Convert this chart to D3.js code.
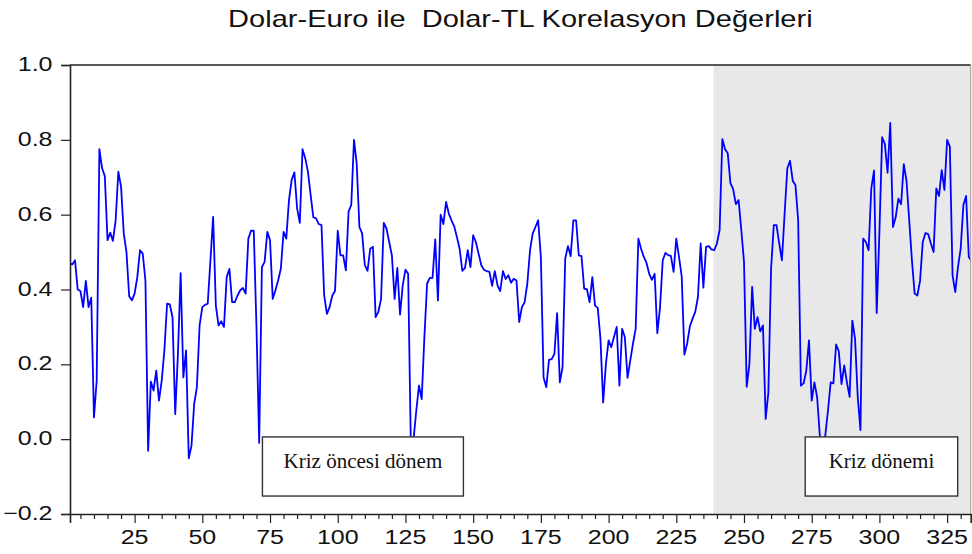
<!DOCTYPE html>
<html>
<head>
<meta charset="utf-8">
<script src="https://cdn.jsdelivr.net/npm/d3@7"></script>
<style>
  html, body { margin: 0; padding: 0; background: #fff; }
  svg { display: block; }
</style>
</head>
<body>
<div id="chart"></div>
<script>
const chartTitle = "Dolar-Euro ile  Dolar-TL Korelasyon Değerleri";

// korelasyon değerleri, gözlem 1'den başlayarak
const correlation = [
  0.47, 0.467, 0.478, 0.40, 0.396, 0.353, 0.423, 0.353, 0.378, 0.058,
  0.156, 0.775, 0.724, 0.703, 0.532, 0.552, 0.53, 0.585, 0.715, 0.675,
  0.55, 0.50, 0.382, 0.371, 0.389, 0.433, 0.505, 0.496, 0.424, -0.031,
  0.154, 0.13, 0.183, 0.103, 0.156, 0.237, 0.362, 0.36, 0.326, 0.067,
  0.228, 0.444, 0.165, 0.237, -0.051, -0.018, 0.094, 0.139, 0.304, 0.353,
  0.359, 0.362, 0.478, 0.594, 0.357, 0.304, 0.315, 0.30, 0.433, 0.455,
  0.366, 0.366, 0.384, 0.398, 0.404, 0.389, 0.536, 0.557, 0.557, 0.30,
  -0.01, 0.46, 0.474, 0.554, 0.532, 0.375, 0.398, 0.424, 0.456, 0.554,
  0.536, 0.639, 0.693, 0.713, 0.617, 0.578, 0.775, 0.751, 0.715, 0.652,
  0.593, 0.59, 0.575, 0.572, 0.384, 0.335, 0.353, 0.384, 0.396, 0.557,
  0.491, 0.491, 0.451, 0.608, 0.626, 0.80, 0.737, 0.567, 0.55, 0.465,
  0.45, 0.509, 0.514, 0.326, 0.34, 0.375, 0.578, 0.563, 0.527, 0.491,
  0.375, 0.458, 0.333, 0.411, 0.453, 0.442, -0.02, 0.0, 0.076, 0.143,
  0.107, 0.273, 0.416, 0.431, 0.431, 0.534, 0.371, 0.60, 0.575, 0.634,
  0.603, 0.585, 0.569, 0.54, 0.509, 0.45, 0.458, 0.505, 0.46, 0.545,
  0.527, 0.496, 0.465, 0.453, 0.449, 0.447, 0.41, 0.449, 0.411, 0.396,
  0.449, 0.428, 0.438, 0.418, 0.429, 0.424, 0.313, 0.353, 0.366, 0.416,
  0.505, 0.55, 0.567, 0.585, 0.487, 0.165, 0.139, 0.212, 0.214, 0.228,
  0.337, 0.152, 0.192, 0.483, 0.516, 0.489, 0.585, 0.585, 0.491, 0.489,
  0.402, 0.401, 0.366, 0.433, 0.357, 0.351, 0.268, 0.098, 0.20, 0.264,
  0.246, 0.273, 0.30, 0.143, 0.295, 0.273, 0.164, 0.21, 0.255, 0.295,
  0.536, 0.509, 0.487, 0.471, 0.442, 0.426, 0.442, 0.283, 0.353, 0.478,
  0.498, 0.492, 0.49, 0.447, 0.536, 0.487, 0.435, 0.226, 0.255, 0.301,
  0.322, 0.34, 0.38, 0.523, 0.405, 0.514, 0.516, 0.507, 0.505, 0.523,
  0.559, 0.802, 0.775, 0.764, 0.684, 0.668, 0.628, 0.639, 0.559, 0.474,
  0.14, 0.201, 0.407, 0.295, 0.326, 0.288, 0.304, 0.054, 0.125, 0.456,
  0.572, 0.572, 0.523, 0.478, 0.603, 0.724, 0.744, 0.69, 0.679, 0.585,
  0.143, 0.149, 0.183, 0.264, 0.103, 0.152, 0.112, 0.009, -0.02, 0.009,
  0.076, 0.152, 0.149, 0.253, 0.235, 0.147, 0.197, 0.152, 0.113, 0.317,
  0.268, 0.112, 0.024, 0.536, 0.527, 0.505, 0.67, 0.718, 0.337, 0.554,
  0.807, 0.789, 0.712, 0.845, 0.567, 0.593, 0.643, 0.628, 0.735, 0.69,
  0.585, 0.478, 0.389, 0.384, 0.423, 0.527, 0.551, 0.548, 0.523, 0.50,
  0.67, 0.65, 0.719, 0.666, 0.80, 0.782, 0.438, 0.393, 0.46, 0.509,
  0.626, 0.65, 0.487, 0.476
];

const xTickValues = [25, 50, 75, 100, 125, 150, 175, 200, 225, 250, 275, 300, 325];
const yTickValues = [-0.2, 0.0, 0.2, 0.4, 0.6, 0.8, 1.0];

// kriz dönemi başlangıcı (gözlem no)
const crisisStart = 238.7;

// etiket kutuları: [metin, x başlangıç, x bitiş, y üst, y alt]
const periodLabels = [
  ["Kriz öncesi dönem", 72.2, 146.4, 0.006, -0.152],
  ["Kriz dönemi", 272.6, 328.9, 0.006, -0.152]
];

const width = 972;
const height = 554;
const plot = { left: 70, right: 970.7, top: 65, bottom: 514 };
const sansFont = "'Liberation Sans', Arial, sans-serif";
const stretch = 1.25; // orijinal yazılar yatayda geniş

const svg = d3
  .select("#chart")
  .append("svg")
  .attr("width", width)
  .attr("height", height)
  .style("background", "#fff");

const x = d3.scaleLinear().domain([1.15, 333.7]).range([plot.left, plot.right]);
const y = d3.scaleLinear().domain([-0.2, 1.0]).range([plot.bottom, plot.top]);

svg
  .append("defs")
  .append("clipPath")
  .attr("id", "plot-clip")
  .append("rect")
  .attr("x", plot.left)
  .attr("y", plot.top)
  .attr("width", plot.right - plot.left)
  .attr("height", plot.bottom - plot.top);

// gri kriz alanı
svg
  .append("rect")
  .attr("x", x(crisisStart))
  .attr("y", plot.top)
  .attr("width", plot.right - x(crisisStart))
  .attr("height", plot.bottom - plot.top)
  .attr("fill", "#e8e8e8");

const line = d3
  .line()
  .x((d, i) => x(i + 1))
  .y((d) => y(d));

svg
  .append("path")
  .datum(correlation)
  .attr("clip-path", "url(#plot-clip)")
  .attr("fill", "none")
  .attr("stroke", "#0000ff")
  .attr("stroke-width", 1.8)
  .attr("stroke-linejoin", "round")
  .attr("d", line);

// çerçeve
svg
  .append("line")
  .attr("x1", plot.left)
  .attr("x2", plot.right)
  .attr("y1", plot.top)
  .attr("y2", plot.top)
  .attr("stroke", "#222")
  .attr("stroke-width", 1.6);

svg
  .append("line")
  .attr("x1", plot.right)
  .attr("x2", plot.right)
  .attr("y1", plot.top)
  .attr("y2", plot.bottom)
  .attr("stroke", "#999")
  .attr("stroke-width", 1);

// y ekseni
const yAxis = svg
  .append("g")
  .attr("transform", `translate(${plot.left},0)`)
  .call(d3.axisLeft(y).tickValues(yTickValues).tickSize(9).tickFormat(""));

yAxis.select(".domain").attr("stroke", "#222").attr("stroke-width", 1.6);
yAxis.selectAll(".tick line").attr("stroke", "#222").attr("stroke-width", 1.2);

svg
  .selectAll(".y-label")
  .data(yTickValues)
  .enter()
  .append("text")
  .attr("class", "y-label")
  .attr("transform", (d) => `translate(52.5,${y(d) + 6}) scale(${stretch},1)`)
  .attr("text-anchor", "end")
  .style("font-family", sansFont)
  .style("font-size", "20px")
  .style("fill", "#111")
  .text((d) => d3.format(".1f")(d));

// x ekseni: küçük çizgiler her 5 gözlemde
const minorTicks = d3.range(5, 334, 5).filter((v) => v % 25 !== 0);

const xMinor = svg
  .append("g")
  .attr("transform", `translate(0,${plot.bottom})`)
  .call(d3.axisBottom(x).tickValues(minorTicks).tickSize(5).tickFormat(""));

xMinor.select(".domain").remove();
xMinor.selectAll(".tick line").attr("stroke", "#222").attr("stroke-width", 1.2);

const xAxis = svg
  .append("g")
  .attr("transform", `translate(0,${plot.bottom})`)
  .call(d3.axisBottom(x).tickValues(xTickValues).tickSize(9).tickFormat(""));

xAxis.select(".domain").attr("stroke", "#222").attr("stroke-width", 1.6);
xAxis.selectAll(".tick line").attr("stroke", "#222").attr("stroke-width", 1.2);

svg
  .selectAll(".x-label")
  .data(xTickValues)
  .enter()
  .append("text")
  .attr("class", "x-label")
  .attr("transform", (d) => `translate(${x(d)},${plot.bottom + 30}) scale(${stretch},1)`)
  .attr("text-anchor", "middle")
  .style("font-family", sansFont)
  .style("font-size", "20px")
  .style("fill", "#111")
  .text((d) => d);

// etiket kutuları
const box = svg
  .selectAll(".period-box")
  .data(periodLabels)
  .enter()
  .append("g")
  .attr("class", "period-box");

box
  .append("rect")
  .attr("x", (d) => x(d[1]))
  .attr("y", (d) => y(d[3]))
  .attr("width", (d) => x(d[2]) - x(d[1]))
  .attr("height", (d) => y(d[4]) - y(d[3]))
  .attr("fill", "#fff")
  .attr("stroke", "#333")
  .attr("stroke-width", 1.4);

box
  .append("text")
  .attr("x", (d) => (x(d[1]) + x(d[2])) / 2)
  .attr("y", (d) => y(d[3]) + 31)
  .attr("text-anchor", "middle")
  .style("font-family", "'Liberation Serif', 'Times New Roman', serif")
  .style("font-size", "21px")
  .style("fill", "#111")
  .text((d) => d[0]);

// başlık
svg
  .append("text")
  .attr("transform", `translate(${(plot.left + plot.right) / 2},27) scale(1.21,1)`)
  .attr("text-anchor", "middle")
  .style("font-family", sansFont)
  .style("font-size", "24px")
  .style("fill", "#111")
  .style("white-space", "pre")
  .attr("xml:space", "preserve")
  .text(chartTitle);
</script>
</body>
</html>
